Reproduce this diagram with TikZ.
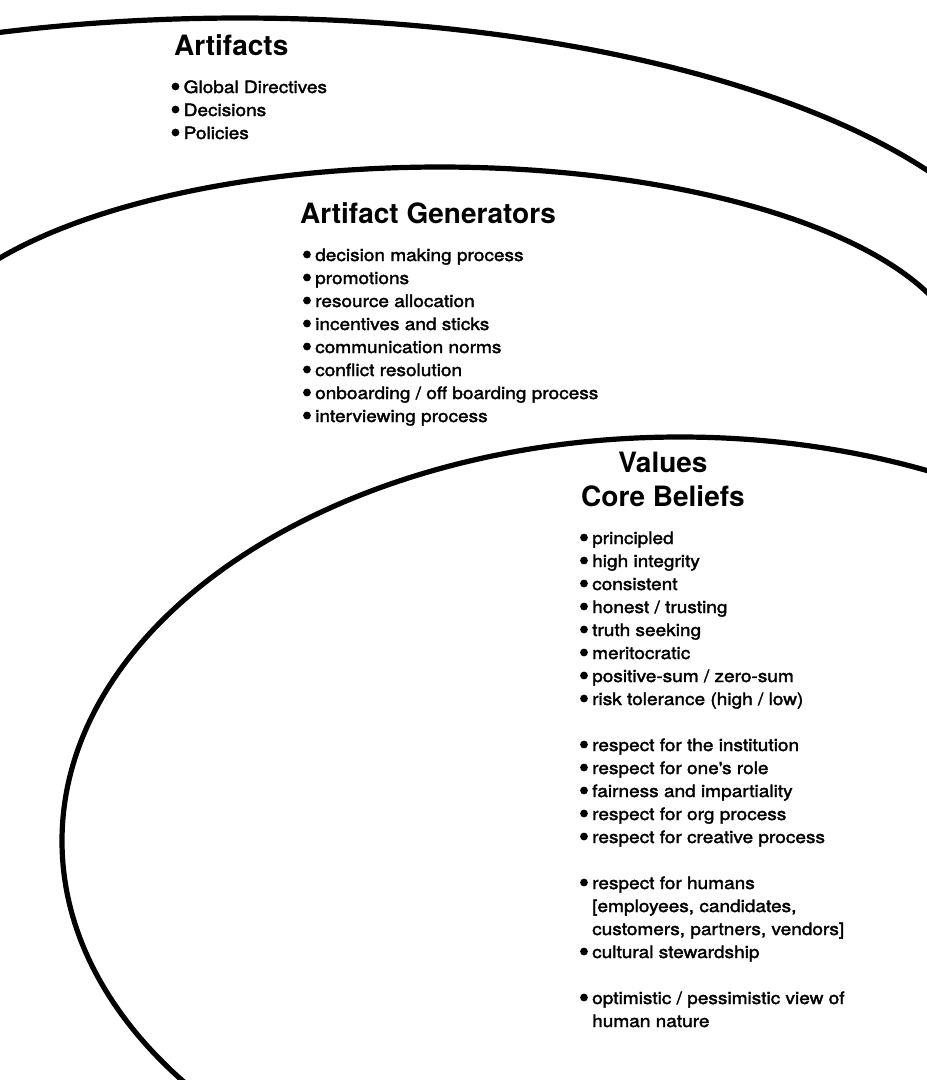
\documentclass[tikz,border=0pt]{standalone}
\usepackage{fontspec}
\setmainfont{TeX Gyre Heros}
\newfontfamily\medfont{TeX Gyre Heros}[FakeStretch=1.12,FakeBold=2]
\tikzset{
  headtxt/.style={anchor=base west, inner sep=0pt, font=\fontsize{28}{34}\selectfont\bfseries},
  itemtxt/.style={anchor=base west, inner sep=0pt, font=\medfont\fontsize{17}{23}\selectfont},
  ring/.style={line width=5.2pt, line cap=round, line join=round},
  dot/.style={fill=black}
}
\begin{document}
\begin{tikzpicture}[x=1pt,y=-1pt]
\useasboundingbox (0,0) rectangle (927,1080);
\fill[white] (0,0) rectangle (927,1080);
\begin{scope}
\clip (0,0) rectangle (927,1080);
% outer ring (Artifacts): upper arc of an ellipse
\draw[ring] plot[domain=0:180, samples=240, smooth] ({240+800*cos(\x)},{330-312*sin(\x)});
% middle ring (Artifact Generators): upper arc of an ellipse
\draw[ring] plot[domain=0:180, samples=240, smooth] ({440+525*cos(\x)},{367-200*sin(\x)});
% inner ring (Values)
\draw[ring] (680,841) ellipse [x radius=618pt, y radius=404pt];
\end{scope}

% Artifacts
\node[headtxt] (arttitle) at (174,55) {Artifacts};
\foreach \t [count=\i from 0] in {Global Directives, Decisions, Policies}{
  \fill[dot] (175.5,{93+23*\i-6.5}) circle[radius=3.9pt];
  \node[itemtxt] (art\i) at (183.5,{93+23*\i}) {\t};
}

% Artifact Generators
\node[headtxt] (gentitle) at (300,223) {Artifact Generators};
\foreach \t [count=\i from 0] in {decision making process, promotions, resource allocation, incentives and sticks, communication norms, conflict resolution, {onboarding / off boarding process}, interviewing process}{
  \fill[dot] (307,{261+23*\i-6.5}) circle[radius=3.9pt];
  \node[itemtxt] (gen\i) at (315,{261+23*\i}) {\t};
}

% Values / Core Beliefs
\node[headtxt, anchor=base] (valtitle) at (663,472) {Values};
\node[headtxt] (coretitle) at (581,506) {Core Beliefs};
\foreach \k/\t in {0/principled, 1/high integrity, 2/consistent, 3/{honest / trusting}, 4/truth seeking, 5/meritocratic, 6/{positive-sum / zero-sum}, 7/{risk tolerance (high / low)}, 9/respect for the institution, 10/{respect for one\textquotesingle s role}, 11/fairness and impartiality, 12/respect for org process, 13/respect for creative process, 15/respect for humans, 18/cultural stewardship, 20/{optimistic / pessimistic view of}}{
  \fill[dot] (584,{544+23*\k-6.5}) circle[radius=3.9pt];
  \node[itemtxt] (val\k) at (592,{544+23*\k}) {\t};
}
\node[itemtxt] (val16) at (592,{544+23*16}) {[employees, candidates,};
\node[itemtxt] (val17) at (592,{544+23*17}) {customers, partners, vendors]};
\node[itemtxt] (val21) at (592,{544+23*21}) {human nature};
\end{tikzpicture}
\end{document}
